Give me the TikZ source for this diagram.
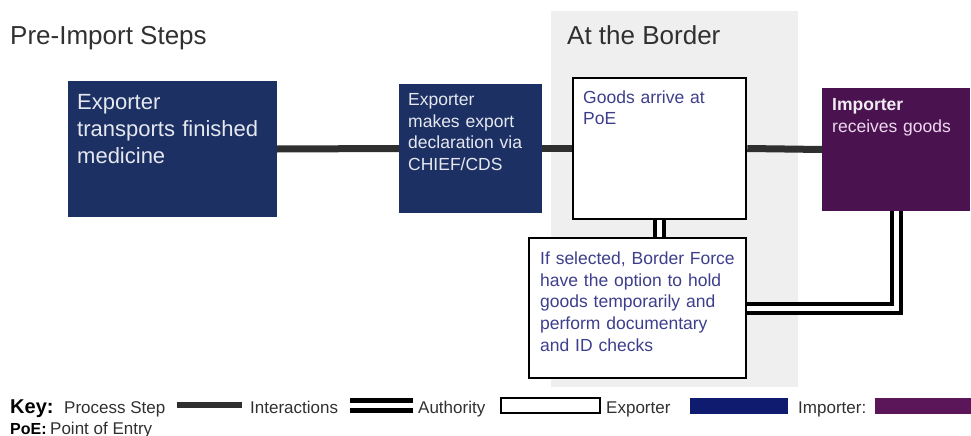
\documentclass[tikz,border=0pt]{standalone}
\usepackage{fontspec}
\setmainfont{Liberation Sans}
\definecolor{navy}{HTML}{1C3063}
\definecolor{plum}{HTML}{4A1350}
\definecolor{keynavy}{HTML}{0E1B6E}
\definecolor{keyplum}{HTML}{5A1658}
\definecolor{boxtext}{HTML}{3E3F8C}
\definecolor{panel}{HTML}{EFEFEF}
\definecolor{interline}{HTML}{2F2F2F}
\definecolor{headgrey}{HTML}{303030}
\definecolor{lighttext}{HTML}{E6E8F0}
\definecolor{pinktext}{HTML}{EED6EE}
\tikzset{
  exbox/.style={rectangle, fill=navy, inner sep=0pt, outer sep=0pt},
  imbox/.style={rectangle, fill=plum, inner sep=0pt, outer sep=0pt},
  authbox/.style={rectangle, draw=black, line width=2.5pt, fill=white, inner sep=0pt, outer sep=1.25pt},
  boxlabel/.style={anchor=base west, inner sep=0pt, align=left, text width=#1},
  smalltext/.style={font=\fontsize{17.5}{21.7}\selectfont},
  interaction/.style={draw=interline, line width=7pt},
  authority/.style={draw=black, line width=4pt, double=white, double distance=5pt},
  heading/.style={anchor=base west, inner sep=0pt, font=\fontsize{26}{30}\selectfont, text=headgrey},
  keytext/.style={anchor=base west, inner sep=0pt, font=\fontsize{17}{20}\selectfont, text=headgrey},
  keybold/.style={anchor=base west, inner sep=0pt, font=\bfseries\fontsize{#1}{20}\selectfont, text=black},
}
\begin{document}
\begin{tikzpicture}[x=1pt, y=-1pt]
\useasboundingbox (0,0) rectangle (971,436);
% border panel
\node[fill=panel, minimum width=247pt, minimum height=376pt, inner sep=0pt] (panel) at (674.5,199) {};
% headings
\node[heading] (hpre) at (10,45) {Pre-Import Steps};
\node[heading] (hborder) at (567,45) {At the Border};
% boxes
\node[exbox, minimum width=209pt, minimum height=136pt] (b1) at (172.5,149) {};
\node[exbox, minimum width=143pt, minimum height=129pt] (b2) at (470.5,148.5) {};
\node[authbox, minimum width=173pt, minimum height=141pt] (b3) at (659.5,148.5) {};
\node[imbox, minimum width=148pt, minimum height=123pt] (b4) at (896,149.5) {};
\node[authbox, minimum width=217pt, minimum height=140pt] (b5) at (637.5,308) {};
% connectors
\draw[interaction] (b1.east) -- (b2.west);
\draw[interaction] (b2.east) -- (b3.west);
\draw[interaction] (b3.east) -- (b4.west);
\draw[authority] (b3.south) -- (b3.south |- b5.north);
\draw[authority] (b4.south) |- (b5.east);
% box texts
\node[boxlabel=200pt, font=\fontsize{22}{27}\selectfont, text=lighttext] (t1) at (77,109)
  {Exporter\\transports finished\\medicine};
\node[boxlabel=130pt, smalltext, text=lighttext] (t2) at (408,105.5)
  {Exporter\\makes export\\declaration via\\CHIEF/CDS};
\node[boxlabel=160pt, smalltext, text=boxtext] (t3) at (583,103)
  {Goods arrive at\\PoE};
\node[boxlabel=135pt, smalltext, text=pinktext] (t4) at (832,110.5)
  {\textbf{\color{white!92!plum}Importer}\\receives goods};
\node[boxlabel=205pt, smalltext, text=boxtext] (t5) at (540,264.5)
  {If selected, Border Force\\have the option to hold\\goods temporarily and\\perform documentary\\and ID checks};
% key
\node[keybold=20] (key) at (10,413) {Key:};
\node[keytext] (kproc) at (64,413) {Process Step};
\coordinate (kp1) at (177,405);
\coordinate (kp2) at (242,405);
\draw[interaction, line width=6pt] (kp1) -- (kp2);
\node[keytext] (kinter) at (250,413) {Interactions};
\coordinate (ka1) at (350,405.5);
\coordinate (ka2) at (413,405.5);
\draw[authority, line width=4.5pt, double distance=5.5pt] (ka1) -- (ka2);
\node[keytext] (kauth) at (418,413) {Authority};
\node[rectangle, draw=black, line width=2pt, fill=white, minimum width=99pt, minimum height=15pt, inner sep=0pt] (kwhite) at (550.5,405.5) {};
\node[keytext] (kexp) at (606,413) {Exporter};
\node[rectangle, fill=keynavy, minimum width=98pt, minimum height=16pt, inner sep=0pt] (knavy) at (739,406) {};
\node[keytext] (kimp) at (798,413) {Importer:};
\node[rectangle, fill=keyplum, minimum width=96pt, minimum height=16pt, inner sep=0pt] (kplum) at (923,406) {};
\node[keybold=16] (poe) at (10,434) {PoE:};
\node[keytext] (poetext) at (50,434) {Point of Entry};
\end{tikzpicture}
\end{document}
